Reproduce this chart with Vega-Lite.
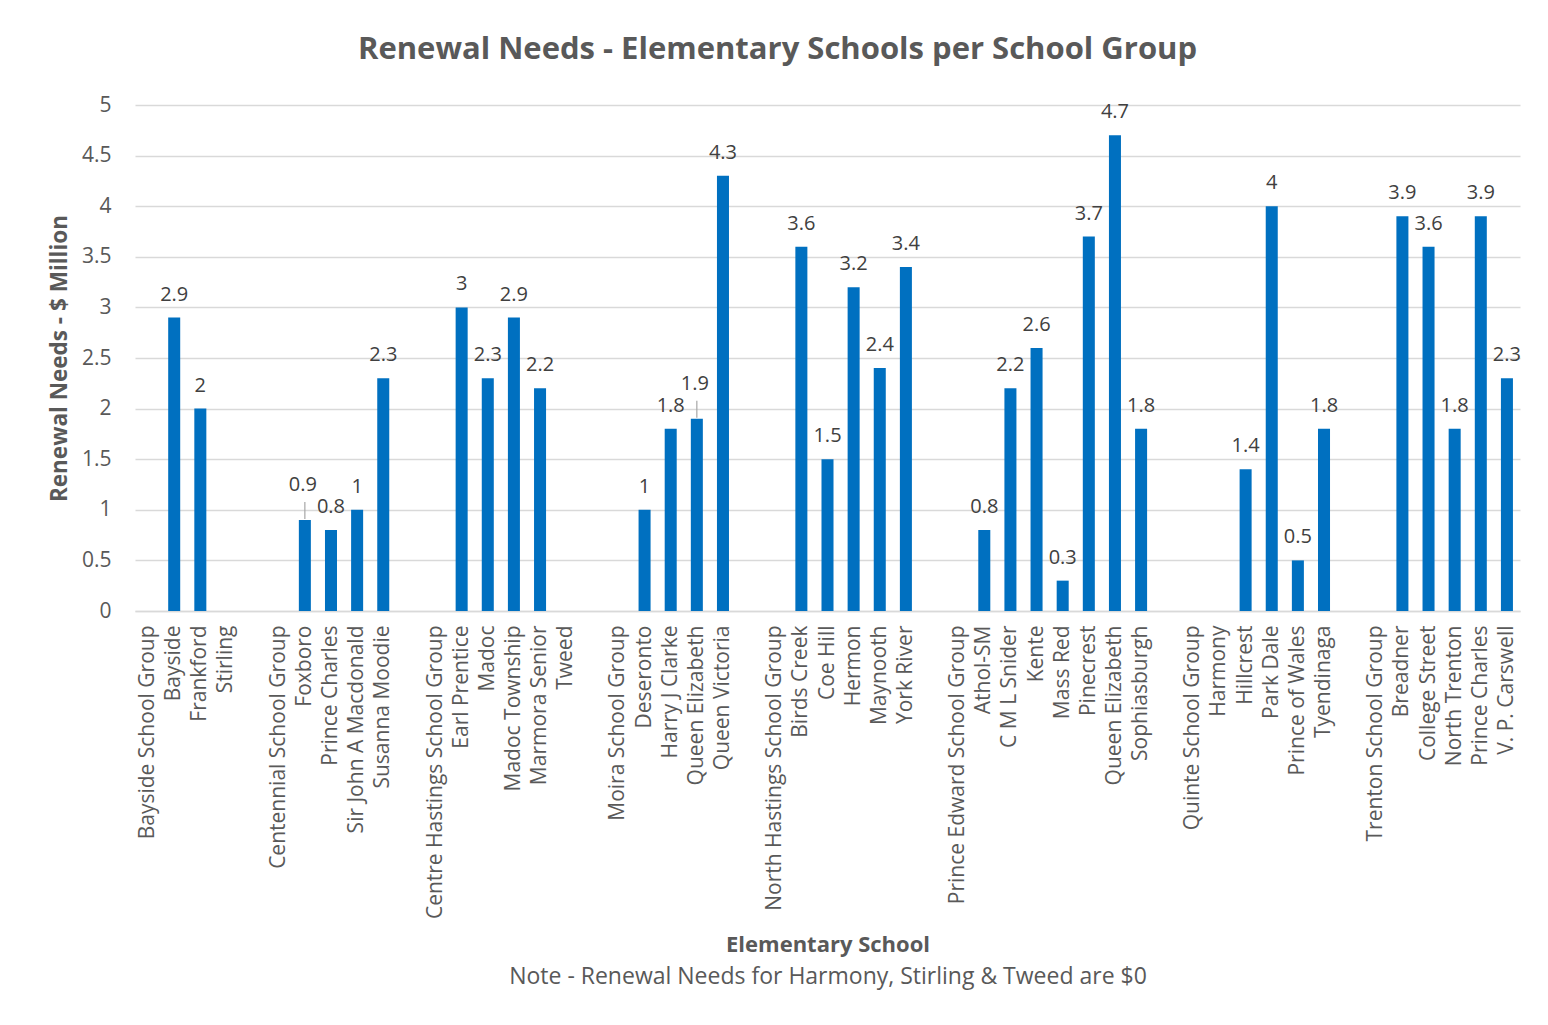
{
  "$schema": "https://vega.github.io/schema/vega-lite/v6.json",
  "width": 1385,
  "height": 506,
  "autosize": {"type": "none"},
  "padding": {"left": 135, "top": 105, "right": 28, "bottom": 414},
  "background": "white",
  "config": {"view": {"stroke": null}, "font": "Open Sans"},
  "title": {
    "text": "Renewal Needs - Elementary Schools per School Group",
    "anchor": "middle",
    "frame": "group",
    "dx": -50,
    "fontSize": 31,
    "fontWeight": "bold",
    "color": "#595959",
    "offset": 28
  },
  "data": {
    "values": [
      {"key": "01#Bayside School Group", "value": null},
      {"key": "02#Bayside", "value": 2.9},
      {"key": "03#Frankford", "value": 2},
      {"key": "04#Stirling", "value": 0},
      {"key": "05#", "value": null},
      {"key": "06#Centennial School Group", "value": null},
      {"key": "07#Foxboro", "value": 0.9},
      {"key": "08#Prince Charles", "value": 0.8},
      {"key": "09#Sir John A Macdonald", "value": 1},
      {"key": "10#Susanna Moodie", "value": 2.3},
      {"key": "11#", "value": null},
      {"key": "12#Centre Hastings School Group", "value": null},
      {"key": "13#Earl Prentice", "value": 3},
      {"key": "14#Madoc", "value": 2.3},
      {"key": "15#Madoc Township", "value": 2.9},
      {"key": "16#Marmora Senior", "value": 2.2},
      {"key": "17#Tweed", "value": 0},
      {"key": "18#", "value": null},
      {"key": "19#Moira School Group", "value": null},
      {"key": "20#Deseronto", "value": 1},
      {"key": "21#Harry J Clarke", "value": 1.8},
      {"key": "22#Queen Elizabeth", "value": 1.9},
      {"key": "23#Queen Victoria", "value": 4.3},
      {"key": "24#", "value": null},
      {"key": "25#North Hastings School Group", "value": null},
      {"key": "26#Birds Creek", "value": 3.6},
      {"key": "27#Coe Hill", "value": 1.5},
      {"key": "28#Hermon", "value": 3.2},
      {"key": "29#Maynooth", "value": 2.4},
      {"key": "30#York River", "value": 3.4},
      {"key": "31#", "value": null},
      {"key": "32#Prince Edward School Group", "value": null},
      {"key": "33#Athol-SM", "value": 0.8},
      {"key": "34#C M L Snider", "value": 2.2},
      {"key": "35#Kente", "value": 2.6},
      {"key": "36#Mass Red", "value": 0.3},
      {"key": "37#Pinecrest", "value": 3.7},
      {"key": "38#Queen Elizabeth", "value": 4.7},
      {"key": "39#Sophiasburgh", "value": 1.8},
      {"key": "40#", "value": null},
      {"key": "41#Quinte School Group", "value": null},
      {"key": "42#Harmony", "value": 0},
      {"key": "43#Hillcrest", "value": 1.4},
      {"key": "44#Park Dale", "value": 4},
      {"key": "45#Prince of Wales", "value": 0.5},
      {"key": "46#Tyendinaga", "value": 1.8},
      {"key": "47#", "value": null},
      {"key": "48#Trenton School Group", "value": null},
      {"key": "49#Breadner", "value": 3.9},
      {"key": "50#College Street", "value": 3.6},
      {"key": "51#North Trenton", "value": 1.8},
      {"key": "52#Prince Charles", "value": 3.9},
      {"key": "53#V. P. Carswell", "value": 2.3}
    ]
  },
  "resolve": {"axis": {"x": "independent"}},
  "layer": [
    {
      "mark": {"type": "rule", "strokeOpacity": 0},
      "encoding": {
        "x": {
          "field": "key",
          "type": "ordinal",
          "scale": {"paddingInner": 0.54, "paddingOuter": 0.27},
          "axis": {
            "orient": "bottom",
            "labels": false,
            "ticks": false,
            "domain": false,
            "grid": false,
            "title": "Note - Renewal Needs for Harmony, Stirling & Tweed are $0",
            "titleFontSize": 23,
            "titleFontWeight": "normal",
            "titleColor": "#595959",
            "titleBaseline": "middle",
            "titleY": 365
          }
        }
      }
    },
    {
      "mark": {"type": "bar", "color": "#0070C0"},
      "encoding": {
        "x": {
          "field": "key",
          "type": "ordinal",
          "axis": {
            "orient": "bottom",
            "title": "Elementary School",
            "titleFontSize": 22,
            "titleFontWeight": "bold",
            "titleColor": "#595959",
            "titleBaseline": "middle",
            "titleY": 333,
            "labelAngle": -90,
            "labelExpr": "split(datum.value, '#')[1]",
            "labelFontSize": 21,
            "labelLimit": 0,
            "labelColor": "#595959",
            "labelPadding": 14,
            "ticks": false,
            "domainColor": "#D9D9D9",
            "domainWidth": 1.5,
            "grid": false
          }
        },
        "y": {
          "field": "value",
          "type": "quantitative",
          "scale": {"domain": [0, 5], "nice": false},
          "axis": {
            "values": [0, 0.5, 1, 1.5, 2, 2.5, 3, 3.5, 4, 4.5, 5],
            "format": "~g",
            "title": "Renewal Needs - $ Million",
            "titleFontSize": 22.5,
            "titleFontWeight": "bold",
            "titleColor": "#595959",
            "titlePadding": 10,
            "labelFontSize": 21,
            "labelColor": "#595959",
            "labelPadding": 24,
            "ticks": false,
            "domain": false,
            "gridColor": "#D9D9D9",
            "gridWidth": 1.5
          }
        }
      }
    },
    {
      "transform": [{"filter": "datum.value > 0 && datum.key != '07#Foxboro' && datum.key != '22#Queen Elizabeth'"}],
      "mark": {"type": "text", "fontSize": 20, "color": "#404040", "baseline": "alphabetic", "dy": -17},
      "encoding": {
        "x": {"field": "key", "type": "ordinal", "axis": null},
        "y": {"field": "value", "type": "quantitative"},
        "text": {"field": "value", "type": "quantitative", "format": "~g"}
      }
    },
    {
      "transform": [{"filter": "datum.key == '07#Foxboro' || datum.key == '22#Queen Elizabeth'"}],
      "mark": {"type": "text", "fontSize": 20, "color": "#404040", "baseline": "alphabetic", "dy": -29, "dx": -2},
      "encoding": {
        "x": {"field": "key", "type": "ordinal", "axis": null},
        "y": {"field": "value", "type": "quantitative"},
        "text": {"field": "value", "type": "quantitative", "format": "~g"}
      }
    },
    {
      "transform": [{"filter": "datum.key == '07#Foxboro' || datum.key == '22#Queen Elizabeth'"}],
      "mark": {"type": "rule", "color": "#A6A6A6", "strokeWidth": 1.2, "yOffset": -1, "y2Offset": -18},
      "encoding": {
        "x": {"field": "key", "type": "ordinal", "axis": null},
        "y": {"field": "value", "type": "quantitative"},
        "y2": {"field": "value"}
      }
    }
  ]
}
